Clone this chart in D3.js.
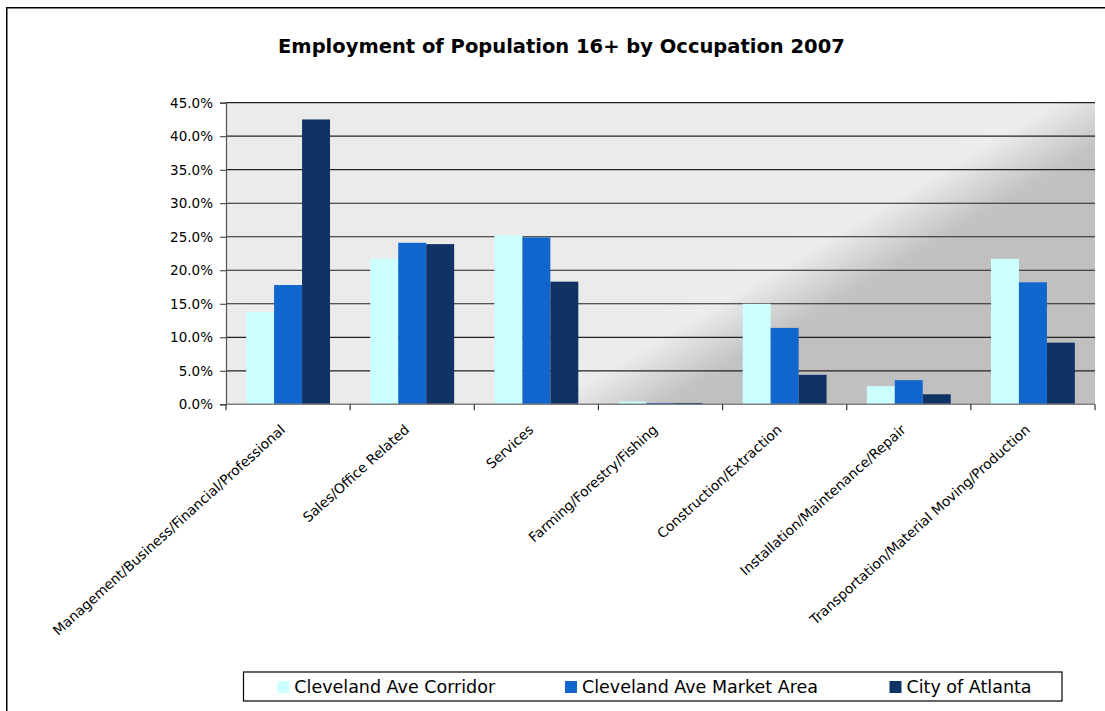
<!DOCTYPE html>
<html>
<head>
<meta charset="utf-8">
<script src="https://cdn.jsdelivr.net/npm/d3@7"></script>
<style>
  html, body { margin: 0; padding: 0; background: #fff; }
  svg { display: block; }
  text { font-family: "DejaVu Sans", "Liberation Sans", sans-serif; fill: #000; }
</style>
</head>
<body>
<svg id="chart" width="1105" height="711"></svg>
<script>
// Occupation categories (x axis)
const categories = [
  "Management/Business/Financial/Professional",
  "Sales/Office Related",
  "Services",
  "Farming/Forestry/Fishing",
  "Construction/Extraction",
  "Installation/Maintenance/Repair",
  "Transportation/Material Moving/Production"
];

// Series names
const seriesNames = ["Cleveland Ave Corridor", "Cleveland Ave Market Area", "City of Atlanta"];

// Share of employed population 16+ (percent)
const corridor   = [13.8, 21.7, 25.2, 0.4, 15.0, 2.7, 21.7];
const marketArea = [17.8, 24.1, 24.9, 0.2, 11.4, 3.6, 18.2];
const atlanta    = [42.5, 23.9, 18.3, 0.2, 4.4, 1.5, 9.2];

// Y axis tick values (fractions)
const yTicks = [0, 0.05, 0.10, 0.15, 0.20, 0.25, 0.30, 0.35, 0.40, 0.45];

const titleText = "Employment of Population 16+ by Occupation 2007";

const colors = ["#CCFFFF", "#1066CC", "#103366"];

const seriesValues = [corridor, marketArea, atlanta];
const rows = categories.map((c, i) => ({
  category: c,
  values: seriesNames.map((s, k) => ({ series: s, value: seriesValues[k][i] / 100 }))
}));

const svg = d3.select("#chart");

// Plot area
const plot = { left: 226, right: 1095, top: 102.7, bottom: 404.3 };

const x0 = d3.scaleBand().domain(categories).range([plot.left, plot.right]).padding(0);
const x1 = d3.scaleBand().domain(seriesNames).range([0, x0.bandwidth()])
  .paddingInner(0).paddingOuter(0.72);
const y = d3.scaleLinear().domain([0, 0.45]).range([plot.bottom, plot.top]);
const color = d3.scaleOrdinal().domain(seriesNames).range(colors);

// Outer chart frame
svg.append("rect")
  .attr("x", 6.75).attr("y", 7.75)
  .attr("width", 1120).attr("height", 720)
  .attr("fill", "none").attr("stroke", "#000").attr("stroke-width", 1.5);

// Diagonal background shading of the plot area
const defs = svg.append("defs");
const cx = 842, cy = 257, nx = 0.511, ny = 0.86, half = 48;
const grad = defs.append("linearGradient")
  .attr("id", "plotBg")
  .attr("gradientUnits", "userSpaceOnUse")
  .attr("x1", cx - nx * half).attr("y1", cy - ny * half)
  .attr("x2", cx + nx * half).attr("y2", cy + ny * half);
grad.append("stop").attr("offset", 0).attr("stop-color", "#EBEBEB");
grad.append("stop").attr("offset", 0.25).attr("stop-color", "#EDEDED");
grad.append("stop").attr("offset", 0.85).attr("stop-color", "#C3C3C3");
grad.append("stop").attr("offset", 1).attr("stop-color", "#C0C0C0");

svg.append("rect")
  .attr("x", plot.left).attr("y", plot.top)
  .attr("width", plot.right - plot.left).attr("height", plot.bottom - plot.top)
  .attr("fill", "url(#plotBg)");

// Horizontal gridlines
svg.append("g")
  .selectAll("line")
  .data(yTicks.filter(d => d > 0))
  .join("line")
  .attr("x1", plot.left).attr("x2", plot.right)
  .attr("y1", d => y(d)).attr("y2", d => y(d))
  .attr("stroke", "#222").attr("stroke-width", 1.2);

// Bars
svg.append("g")
  .selectAll("g")
  .data(rows)
  .join("g")
  .attr("transform", d => `translate(${x0(d.category)},0)`)
  .selectAll("rect")
  .data(d => d.values)
  .join("rect")
  .attr("x", d => x1(d.series))
  .attr("width", x1.bandwidth())
  .attr("y", d => y(d.value))
  .attr("height", d => y(0) - y(d.value))
  .attr("fill", d => color(d.series));

// Y axis
const yAxis = svg.append("g")
  .attr("transform", `translate(${plot.left},0)`)
  .call(d3.axisLeft(y).tickValues(yTicks).tickFormat(d3.format(".1%")).tickSize(6).tickPadding(7));
yAxis.select(".domain").attr("stroke", "#555").attr("stroke-width", 1.2);
yAxis.selectAll(".tick line").attr("stroke", "#333");
yAxis.selectAll(".tick text")
  .style("font-family", "'DejaVu Sans', sans-serif")
  .style("font-size", "13.5px")
  .attr("fill", "#111");

// X axis: ticks sit on category boundaries
const xAxis = svg.append("g")
  .attr("transform", `translate(0,${plot.bottom})`);
xAxis.append("line")
  .attr("x1", plot.left).attr("x2", plot.right)
  .attr("stroke", "#808080").attr("stroke-width", 1.6);
const bounds = categories.map(c => x0(c)).concat([x0(categories[categories.length - 1]) + x0.bandwidth()]);
xAxis.selectAll("line.tick")
  .data(bounds)
  .join("line")
  .attr("class", "tick")
  .attr("x1", d => d).attr("x2", d => d)
  .attr("y1", 0).attr("y2", 6)
  .attr("stroke", "#333").attr("stroke-width", 1.2);

// Rotated category labels
svg.append("g")
  .selectAll("text")
  .data(categories)
  .join("text")
  .attr("transform", d => `translate(${x0(d) + x0.bandwidth() / 2 - 2},431) rotate(-42)`)
  .attr("text-anchor", "end")
  .style("font-size", "13.7px")
  .attr("fill", "#111")
  .text(d => d);

// Title
const title = svg.append("text")
  .attr("x", 278).attr("y", 52.5)
  .style("font-weight", "bold")
  .style("font-size", "18.5px")
  .text(titleText);
// scale the title font so the line spans its intended width
const tw = title.node().getComputedTextLength();
title.style("font-size", (18.5 * 567 / tw).toFixed(2) + "px");

// Legend
const legend = svg.append("g");
legend.append("rect")
  .attr("x", 243.5).attr("y", 672)
  .attr("width", 818.5).attr("height", 29)
  .attr("fill", "#fff").attr("stroke", "#000").attr("stroke-width", 1.2);
const legendX = [277.3, 565, 889.5];
const item = legend.selectAll("g")
  .data(seriesNames)
  .join("g")
  .attr("transform", (d, i) => `translate(${legendX[i]},0)`);
item.append("rect")
  .attr("x", 0).attr("y", 681)
  .attr("width", 12).attr("height", 12)
  .attr("fill", d => color(d));
item.append("text")
  .attr("x", 17).attr("y", 693)
  .style("font-size", "17.5px")
  .attr("fill", "#111")
  .text(d => d);
</script>
</body>
</html>
